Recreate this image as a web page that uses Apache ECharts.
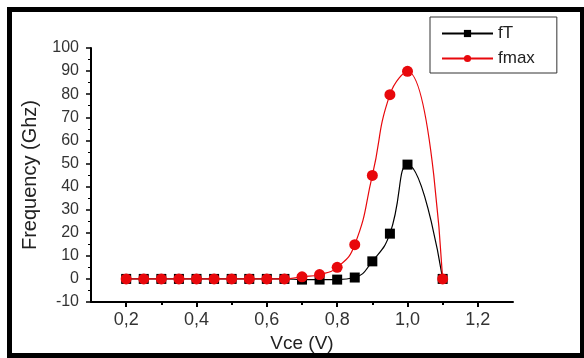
<!DOCTYPE html>
<html>
<head>
<meta charset="utf-8">
<script src="https://cdn.jsdelivr.net/npm/echarts@6/dist/echarts.min.js"></script>
<style>
html,body{margin:0;padding:0;background:#fff;}
#c{width:584px;height:358px;}
</style>
</head>
<body>
<div id="c"></div>
<script>
// Data
var vce = [0.2,0.25,0.3,0.35,0.4,0.45,0.5,0.55,0.6,0.65,0.7,0.75,0.8,0.85,0.9,0.95,1.0,1.1];
var fT = [0,0,0,0,0,0,0,0,0,0,-0.3,-0.3,-0.3,0.6,7.6,19.6,49.5,0];
var fmax = [0,0,0,0,0,0,0,0,0,0,0.9,1.9,5,14.8,44.8,79.8,89.9,0];
var xMajorTicks = [0.2,0.4,0.6,0.8,1.0,1.2];
var xMinorTicks = [0.3,0.5,0.7,0.9,1.1];
var seriesNames = ['fT','fmax'];
var xTitle = 'Vce (V)';
var yTitle = 'Frequency (Ghz)';

function pairs(xs, ys){ return xs.map(function(x,i){ return [x, ys[i]]; }); }

var FONT = '"Liberation Sans", Arial, sans-serif';
var chart = echarts.init(document.getElementById('c'), null, {renderer:'canvas'});
chart.setOption({
  backgroundColor:'#fff',
  animation:false,
  graphic:[{
    type:'rect', shape:{x:9.5,y:9.5,width:573,height:346},
    style:{fill:'none', stroke:'#000', lineWidth:5}, z:100
  }],
  legend:{
    orient:'vertical', left:430, top:17,
    padding:[8,22,6,11],
    itemWidth:51, itemHeight:9, itemGap:8,
    borderColor:'#333', borderWidth:1,
    textStyle:{fontFamily:FONT, fontSize:17, color:'#222'},
    data:seriesNames
  },
  grid:{left:91, top:48, right:71, bottom:56, containLabel:false, outerBoundsMode:'none'},
  xAxis:[{
    type:'value', min:0.1, max:1.3,
    name:xTitle, nameLocation:'middle', nameGap:31,
    nameTextStyle:{fontFamily:FONT, fontSize:19, color:'#222'},
    axisLine:{onZero:false, lineStyle:{color:'#000', width:2}},
    axisTick:{show:true, inside:false, length:5, customValues:xMajorTicks, lineStyle:{color:'#000', width:2}},
    axisLabel:{customValues:xMajorTicks, margin:9, fontFamily:FONT, fontSize:18, color:'#333',
      formatter:function(v){ return v.toFixed(1).replace('.',','); }},
    splitLine:{show:false}
  },{
    type:'value', min:0.1, max:1.3, position:'bottom',
    axisLine:{show:false, onZero:false},
    axisTick:{show:true, length:3, customValues:xMinorTicks, lineStyle:{color:'#000', width:2}},
    axisLabel:{show:false},
    splitLine:{show:false}
  }],
  yAxis:{
    type:'value', min:-10, max:100, interval:10,
    name:yTitle, nameLocation:'middle', nameGap:51, nameRotate:90,
    nameTextStyle:{fontFamily:FONT, fontSize:20, color:'#222'},
    axisLine:{show:true, onZero:false, lineStyle:{color:'#000', width:2}},
    axisTick:{show:true, length:5, lineStyle:{color:'#000', width:1.5}},
    minorTick:{show:true, splitNumber:2, length:3, lineStyle:{color:'#000', width:1}},
    axisLabel:{margin:12, fontFamily:FONT, fontSize:16, color:'#333'},
    splitLine:{show:false}
  },
  series:[{
    name:seriesNames[0], type:'line', smooth:0.5,
    data:pairs(vce, fT),
    symbol:'rect', symbolSize:10,
    itemStyle:{color:'#000'},
    lineStyle:{color:'#000', width:1.2},
    z:2
  },{
    name:seriesNames[1], type:'line', smooth:0.5,
    data:pairs(vce, fmax),
    symbol:'circle', symbolSize:11,
    itemStyle:{color:'#e8080c'},
    lineStyle:{color:'#e8080c', width:1.2},
    z:3
  }]
});
</script>
</body>
</html>
